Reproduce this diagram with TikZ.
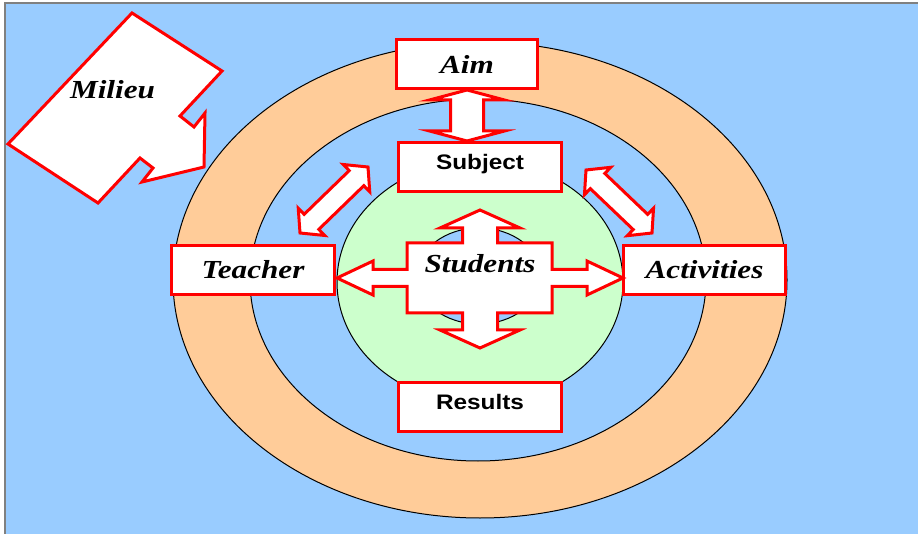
\documentclass[tikz,border=0pt]{standalone}
\usepackage{fontspec}
\usepackage{tikz}
\usetikzlibrary{calc}

\newfontfamily\timesbi[FakeStretch=1.2]{Liberation Serif}
\newfontfamily\arialb[FakeStretch=1.16]{Liberation Sans}

\definecolor{skyblue}{HTML}{99CCFF}
\definecolor{peach}{HTML}{FFCC99}
\definecolor{mint}{HTML}{CCFFCC}

\tikzset{
	redline/.style={draw=red, line width=3pt, fill=white},
	ring/.style={draw=black, line width=1pt},
	itlabel/.style={font=\timesbi\fontsize{26}{28}\selectfont\bfseries\itshape},
	sflabel/.style={font=\arialb\fontsize{21}{24}\selectfont\bfseries, text height=15pt, text depth=10pt},
	box/.style={redline, rectangle, minimum width=163pt, minimum height=49pt, inner sep=0pt},
}

% double block arrow: from, to, head length, shaft half width, head half width
\newcommand{\blockarrow}[5]{%
	\draw[redline] (#1)
		-- ($(#1)!#3!(#2)!#5!90:(#2)$)
		-- ($(#1)!#3!(#2)!#4!90:(#2)$)
		-- ($(#2)!#3!(#1)!#4!-90:(#1)$)
		-- ($(#2)!#3!(#1)!#5!-90:(#1)$)
		-- (#2)
		-- ($(#2)!#3!(#1)!#5!90:(#1)$)
		-- ($(#2)!#3!(#1)!#4!90:(#1)$)
		-- ($(#1)!#3!(#2)!#4!-90:(#2)$)
		-- ($(#1)!#3!(#2)!#5!-90:(#2)$)
		-- cycle;}

\begin{document}
\begin{tikzpicture}[x=1pt, y=-1pt]
	\useasboundingbox (0,0) rectangle (918,534);
	\fill[skyblue] (5,3) rectangle (918,534);
	\draw[gray, line width=1.2pt] (5,534) -- (5,3) -- (918,3);

	% rings
	\filldraw[ring, fill=peach] (480,280) ellipse [x radius=307pt, y radius=238pt];
	\filldraw[ring, fill=skyblue] (478,280) ellipse [x radius=228pt, y radius=181pt];
	\filldraw[ring, fill=mint] (480,282) ellipse [x radius=143pt, y radius=122pt];
	\filldraw[ring, fill=skyblue] (479,276) ellipse [x radius=62pt, y radius=48pt];

	% boxes
	\node[box, itlabel, minimum width=141pt] (aim) at (467,64) {Aim};
	\node[box, sflabel] (subject) at (480,167) {Subject};
	\node[box, itlabel] (teacher) at (253,270) {Teacher};
	\node[box, itlabel, minimum width=162pt] (activities) at (704.5,270) {Activities};
	\node[box, sflabel] (results) at (480,407) {Results};

	% arrows
	\coordinate (aimtip) at (aim.south);
	\coordinate (subtip) at (aim.south |- subject.north);
	\blockarrow{aimtip}{subtip}{10pt}{16.5pt}{37.5pt}

	\coordinate (teachtip) at (300,233);
	\coordinate (subleft) at (368,167);
	\blockarrow{teachtip}{subleft}{16pt}{10.5pt}{19pt}

	\coordinate (subright) at (586,170);
	\coordinate (acttip) at (652,233);
	\blockarrow{subright}{acttip}{16pt}{10.5pt}{19pt}

	% students cross
	\begin{scope}[shift={(480,278)}]
		\draw[redline] (0,-68) -- (40,-50) -- (17.5,-50) -- (17.5,-35) -- (72,-35) -- (72,-8.5)
			-- (107,-8.5) -- (107,-17) -- (143,0) -- (107,17) -- (107,8.5) -- (72,8.5)
			-- (72,35) -- (17.5,35) -- (17.5,52) -- (40,52) -- (0,70) -- (-40,52)
			-- (-17.5,52) -- (-17.5,35) -- (-73,35) -- (-73,8.5) -- (-107,8.5) -- (-107,17)
			-- (-143,0) -- (-107,-17) -- (-107,-8.5) -- (-73,-8.5) -- (-73,-35) -- (-17.5,-35)
			-- (-17.5,-50) -- (-40,-50) -- cycle;
		\node[itlabel, anchor=base] (students) at (0,-5) {Students};
	\end{scope}

	% milieu
	\draw[redline] (132,13) -- (222,71) -- (180,116) -- (194,127) -- (205,113) -- (204,167)
		-- (142,182) -- (153,168) -- (140,158) -- (98,203) -- (8,144) -- cycle;
	\node[itlabel, anchor=base] (milieu) at (112.5,99) {Milieu};
\end{tikzpicture}
\end{document}
